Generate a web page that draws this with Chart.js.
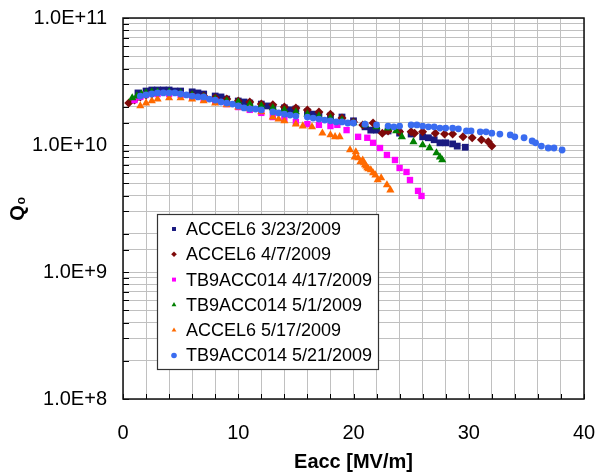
<!DOCTYPE html>
<html><head><meta charset="utf-8">
<script src="https://cdn.jsdelivr.net/npm/chart.js@4.4.0/dist/chart.umd.min.js"></script>
<style>html,body{margin:0;padding:0;background:#fff}#wrap{position:relative;width:597px;height:474px}</style>
</head><body><div id="wrap"><canvas id="c" width="597" height="474"></canvas></div>
<script>
// Series labels
const seriesLabels = ['ACCEL6 3/23/2009','ACCEL6 4/7/2009','TB9ACC014 4/17/2009','TB9ACC014 5/1/2009','ACCEL6 5/17/2009','TB9ACC014 5/21/2009'];
// Eacc [MV/m] and Q0 (in units of 1e10)
const e1 = [1.3,2,2.5,3,3.5,4,4.5,5,6,6.5,7,8,8.5,9,10,10.5,11,12,12.5,13,14,14.5,15,16,16.5,17,18,19,20,21,21.5,22,23,24,25,26,26.5,27,27.5,28,28.6,29,29.7];
const q1 = [2.57,2.66,2.71,2.71,2.71,2.71,2.66,2.66,2.62,2.57,2.52,2.43,2.39,2.30,2.22,2.18,2.14,2.10,2.03,1.99,1.96,1.89,1.92,1.82,1.75,1.72,1.69,1.66,1.55,1.39,1.31,1.31,1.29,1.24,1.22,1.16,1.14,1.10,1.04,1.04,1.02,0.98,0.96];
const e2 = [0.5,1,1.5,2,2.5,3,4,5,6,7,8,9,10,11,12,13,14,15,16,17,18,19,20,20.8,21.7,22.5,23,24,25,25.3,26,27.1,27.9,28.6,29.5,30.3,31.1,31.7,32];
const q2 = [2.14,2.26,2.39,2.48,2.52,2.57,2.57,2.52,2.48,2.43,2.35,2.30,2.22,2.18,2.10,2.07,1.99,1.96,1.89,1.82,1.75,1.63,1.52,1.44,1.49,1.24,1.29,1.27,1.27,1.24,1.27,1.24,1.22,1.22,1.16,1.14,1.10,1.06,0.98];
const e3 = [1,1.5,2,3,4,5,6,7,8,9,10,11,12,13,14,15,16,17,18,18.6,19.4,20.4,21.2,21.7,22.3,22.9,23.6,24.0,24.6,24.9,25.6,25.9];
const q3 = [2.26,2.39,2.48,2.52,2.52,2.48,2.39,2.30,2.22,2.10,1.99,1.89,1.79,1.66,1.60,1.52,1.46,1.44,1.41,1.44,1.31,1.16,1.14,1.04,0.947,0.835,0.762,0.659,0.613,0.530,0.435,0.397];
const e4 = [0.8,1.2,1.6,2,2.5,3,4,5,6,7,8,9,10,11,12,13,14,15,16,17,18,19,20,21,22,23,23.7,24.2,25.2,26,26.6,27.2,27.5,27.7];
const q4 = [2.35,2.43,2.52,2.57,2.62,2.62,2.62,2.57,2.48,2.39,2.30,2.22,2.18,2.10,2.03,1.96,1.89,1.82,1.75,1.69,1.63,1.57,1.49,1.44,1.39,1.36,1.29,1.16,1.06,1.00,0.947,0.865,0.804,0.762];
const e5 = [1.5,2,2.5,3,4,5,6,7,8,9,10,11,12,13,13.5,14,15,15.6,16.4,17.3,18,18.4,18.8,19.7,20.2,20.1,20.4,20.6,20.8,20.9,21.0,21.1,21.2,21.3,21.5,21.7,21.9,22.1,22.4,22.9,23.2];
const q5 = [2.03,2.14,2.22,2.30,2.35,2.35,2.30,2.22,2.14,2.07,1.99,1.92,1.82,1.66,1.60,1.55,1.46,1.41,1.39,1.24,1.20,1.16,1.16,0.913,0.881,0.804,0.790,0.735,0.76,0.722,0.696,0.68,0.659,0.647,0.636,0.602,0.58,0.530,0.550,0.484,0.442];
const e6 = [1.5,2,2.5,3,3.5,4,4.5,5,5.5,6,6.5,7,7.5,8,8.5,9,9.5,10,10.5,11,11.5,12,13,13.5,14,14.5,15,16,16.5,17,17.5,18,18.5,19,19.5,20,21,22,23,23.5,24,25,25.5,26,26.5,27,27.5,28,28.6,29.1,29.8,30.2,31,31.5,32,32.7,33.6,34,34.8,35.5,35.8,36.3,36.9,37.4,38.1];
const q6 = [2.43,2.48,2.52,2.57,2.57,2.57,2.57,2.52,2.48,2.43,2.39,2.39,2.30,2.26,2.18,2.14,2.10,2.03,1.96,1.92,1.92,1.89,1.82,1.79,1.75,1.72,1.69,1.66,1.63,1.60,1.57,1.55,1.52,1.52,1.49,1.49,1.46,1.44,1.41,1.39,1.41,1.44,1.44,1.41,1.39,1.39,1.36,1.36,1.36,1.34,1.29,1.29,1.27,1.27,1.24,1.22,1.20,1.16,1.14,1.075,1.04,0.98,0.947,0.947,0.913];
const xTickLabels = [0,10,20,30,40];
const yDecades = [1e8,1e9,1e10,1e11];

const E = [e1,e2,e3,e4,e5,e6];
const Q = [q1,q2,q3,q4,q5,q6];
const colors = ['#1a1a80','#7f0a0a','#ff00ff','#008000','#ff6a00','#3a6cf0'];
const styles = ['rect','rectRot','rect','triangle','triangle','circle'];
const radii = [4.8,4.5,4.5,4.7,4.7,3.4];

const datasets = seriesLabels.map((lab,i)=>({
  label: lab,
  data: E[i].map((x,k)=>({x:x, y:Q[i][k]*1e10})),
  pointStyle: styles[i], pointRadius: radii[i], pointHoverRadius: radii[i],
  backgroundColor: colors[i], borderColor: colors[i], borderWidth: 0,
  showLine:false, order: 5-i
}));

const frame = {
  id:'frame',
  beforeDatasetsDraw(chart){
    const {ctx, chartArea:a, scales} = chart;
    ctx.save();
    ctx.strokeStyle='#000'; ctx.lineWidth=1;
    ctx.beginPath();
    scales.x.ticks.forEach(t=>{const px=Math.round(scales.x.getPixelForValue(t.value))+0.5; ctx.moveTo(px,a.bottom); ctx.lineTo(px,a.bottom-5);});
    scales.y.ticks.forEach(t=>{const py=Math.round(scales.y.getPixelForValue(t.value))+0.5; ctx.moveTo(a.left,py); ctx.lineTo(a.left+6,py);});
    ctx.stroke();
    ctx.restore();
  },
  afterDatasetsDraw(chart){
    const {ctx, chartArea:a} = chart;
    ctx.save();
    ctx.strokeStyle='#111'; ctx.lineWidth=1.5;
    ctx.strokeRect(a.left, a.top, a.right-a.left, a.bottom-a.top);
    // legend box
    const x0=157, y0=214, w=221, h=155;
    ctx.fillStyle='#fff'; ctx.fillRect(x0,y0,w,h);
    ctx.strokeStyle='#333'; ctx.lineWidth=1.2; ctx.strokeRect(x0+0.5,y0+0.5,w,h);
    ctx.font='18px "Liberation Sans", Arial, sans-serif'; ctx.textBaseline='middle';
    chart.data.datasets.forEach((ds,i)=>{
      const cy = y0+15+i*25.3;
      ctx.fillStyle=ds.backgroundColor; ctx.strokeStyle=ds.backgroundColor;
      Chart.helpers.drawPoint(ctx,{pointStyle:ds.pointStyle, radius:2.8, rotation:0, borderWidth:0}, 174, cy);
      ctx.fillStyle='#000';
      ctx.fillText(ds.label, 186, cy+1);
    });
    ctx.restore();
  }
};

new Chart(document.getElementById('c'), {
  type:'scatter',
  data:{datasets},
  options:{
    responsive:false, animation:false, devicePixelRatio:1,
    layout:{padding:{left:0,right:13,top:18,bottom:0}},
    plugins:{legend:{display:false}, tooltip:{enabled:false}},
    scales:{
      x:{type:'linear', min:0, max:40,
        afterFit(s){s.height=75; s.paddingLeft=0; s.paddingRight=0;},
        ticks:{stepSize:2, autoSkip:false, maxRotation:0, padding:22, color:'#000',
          font:{family:'"Liberation Sans", Arial, sans-serif', size:20},
          callback:(v)=> xTickLabels.includes(v) ? String(v) : ''},
        grid:{color:'#c0c0c0', drawTicks:false},
        border:{display:false},
        title:{display:true, text:'Eacc [MV/m]', color:'#000', padding:{top:0,bottom:0},
          font:{family:'"Liberation Sans", Arial, sans-serif', size:20, weight:'bold'}}
      },
      y:{type:'logarithmic', min:1e8, max:1e11,
        afterFit(s){s.width=123; s.paddingTop=0; s.paddingBottom=0;},
        ticks:{autoSkip:false, padding:16, color:'#000',
          font:{family:'"Liberation Sans", Arial, sans-serif', size:20},
          callback:(v)=> yDecades.some(d=>Math.abs(d-v)/d<1e-6) ? Number(v).toExponential(1).toUpperCase() : ''},
        grid:{color:'#c0c0c0', drawTicks:false},
        border:{display:false},
        title:{display:true, text:'Q₀', color:'#000', padding:{top:6,bottom:0},
          font:{family:'"Liberation Sans", Arial, sans-serif', size:20, weight:'bold'}}
      }
    }
  },
  plugins:[frame]
});
</script></body></html>
